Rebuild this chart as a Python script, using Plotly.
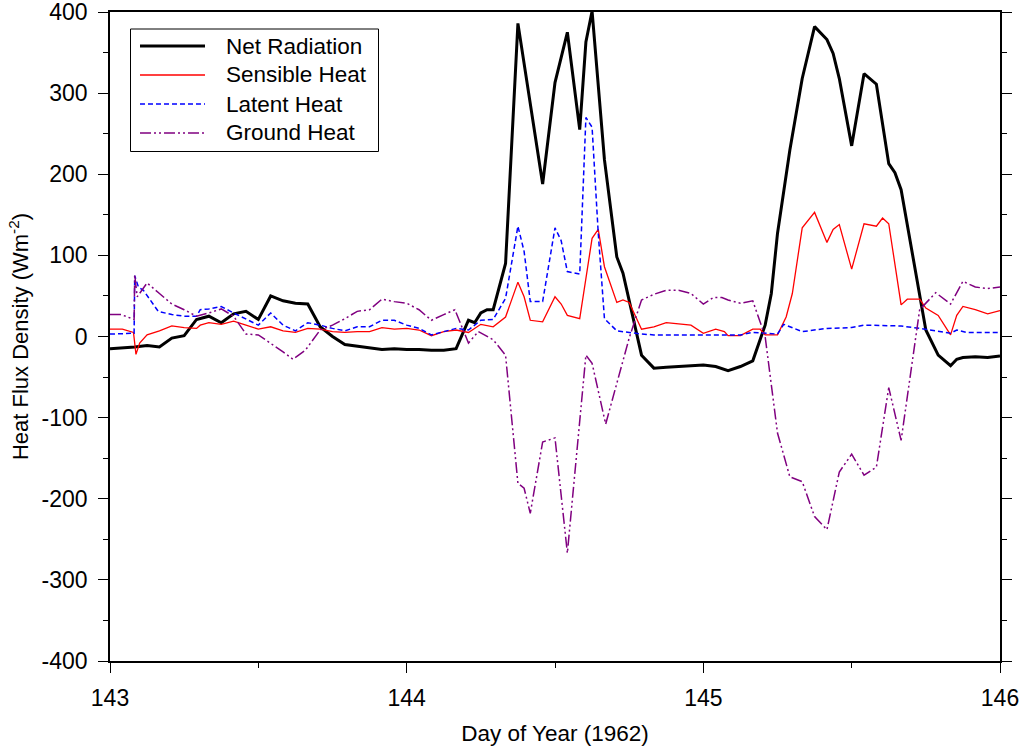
import plotly.graph_objects as go

# ---- data (hours since start of day 143, 1962) ----
net_hours = [0,2,3,4,5,6,7,8,9,10,
             11,12,13,14,15,16,17,18,19,20,
             21,22,23,24,25,26,27,28,29,29.5,
             30,30.5,31,32,33,35,36,37,38,38.5,
             39,40,41,41.5,43,44,45,46,47,48,
             49,50,51,52,53,53.5,54,55,56,57,
             58,58.5,59,60,61,62,63,63.5,64,65,
             66,67,68,68.5,69,70,71,72]
net_values = [-15,-13,-11,-13,-2,1,21,25,17,28,
              31,21,50,44,41,40,12,0,-10,-12,
              -14,-16,-15,-16,-16,-17,-17,-15,20,17,
              29,33,33,90,386,188,313,375,255,363,
              401,218,98,78,-23,-39,-38,-37,-36,-35,
              -37,-42,-37,-30,14,53,127,230,318,382,
              366,349,318,235,324,311,213,202,181,94,
              8,-23,-36,-28,-26,-25,-26,-24]

sens_hours = [0,1,1.9,2.1,2.4,3,4,5,6,7,
              7.3,8,9,10,11,12,13,14,15,16,
              17,18,19,20,21,22,23,24,25,26,
              27,28,29,30,31,32,33,33.5,34,35,
              36,36.5,37,38,39,39.5,40,41,41.5,42,
              43,44,45,47,48,49,49.7,50,51,52,
              52.6,53,54,54.7,55.2,56,57,58,58.5,59,
              60,61,62,62.5,63,64,64.5,65.5,66,67,
              68,68.5,69,70,71,72]
sens_values = [9,9,5,-22,-8,2,7,13,11,10,
               14,17,15,19,14,9,12,7,5,10,
               9,6,5,6,6,11,9,10,8,1,
               6,8,5,15,12,24,67,49,20,18,
               49,40,26,22,121,132,86,42,45,42,
               9,12,17,14,4,9,6,1,1,9,
               9,2,2,24,53,134,153,116,132,138,
               83,139,136,146,139,39,46,46,35,26,
               2,26,37,33,28,32]

lat_hours = [0,1.95,2.0,2.3,2.7,3.9,5,6,7,7.3,
             8,9,10,11,12,13,14,15,16,17,
             18,19,20,21,22,23,24,25,26,27,
             28,29,30,31,32,33,33.5,34,35,36,
             36.5,37,38,38.5,39,39.5,40,41,42,43,
             44,46,48,50,51,52,53,54,54.5,56,
             58,60,61,64,65.5,68,68.5,69.3,72]
lat_values = [3,4,75,61,57,31,27,25,25,33,
              34,37,29,22,14,29,14,7,17,14,
              10,7,12,12,20,20,14,10,2,6,
              10,8,20,21,47,136,105,43,43,134,
              118,80,77,270,258,127,22,7,5,3,
              2,2,2,2,2,5,4,3,15,6,
              10,11,14,13,10,4,8,5,5]

grd_hours = [0,0.9,1.95,2.0,2.2,3,4,5,6,7,
             8,9,10,11,12,13,14,14.8,15.8,17,
             18,19,20,21,22,23,24,25,26,27,
             27.9,29,29.8,31,32,33,33.5,34,35,36,
             37,38.5,39,40.1,42,43,44,45,46,47,
             48,48.8,49.5,50,51,52,53,54,55,56,
             57,58,59,60,61,62,63,64,65.5,66.8,
             68,69,70,71,72]
grd_values = [27,27,21,76,49,66,53,40,33,25,
              29,34,25,3,2,-8,-19,-28,-17,8,
              14,22,31,33,46,43,41,33,20,27,
              33,-8,6,-4,-23,-181,-187,-218,-130,-125,
              -267,-23,-33,-108,-2,45,52,57,57,53,
              40,48,48,45,41,44,0,-119,-173,-179,
              -222,-238,-167,-145,-171,-161,-63,-128,33,54,
              40,68,61,59,61]

START_DAY = 143
x_ticks = [143, 144, 145, 146]
y_ticks = [-400, -300, -200, -100, 0, 100, 200, 300, 400]
series_names = ["Net Radiation", "Sensible Heat", "Latent Heat", "Ground Heat"]


def to_day(hours):
    return [START_DAY + h / 24.0 for h in hours]


FONT = "Arial, Liberation Sans, sans-serif"

W, H = 1022, 746
ML, MR, MT, MB = 110, 22, 12, 85
PW, PH = W - ML - MR, H - MT - MB


def px_x(px):  # pixel -> paper x
    return (px - ML) / PW


def px_y(py):  # pixel -> paper y
    return (H - MB - py) / PH


styles = [
    dict(color="#000000", width=3),
    dict(color="#FF0000", width=1.3),
    dict(color="#0000FF", width=1.5, dash="5px,3px"),
    dict(color="#800080", width=1.5, dash="11px,3px,2px,3px,2px,3px"),
]
series = [(net_hours, net_values), (sens_hours, sens_values),
          (lat_hours, lat_values), (grd_hours, grd_values)]

fig = go.Figure()
for (hrs, vals), name, st in zip(series, series_names, styles):
    fig.add_trace(go.Scatter(x=to_day(hrs), y=vals, mode="lines", name=name,
                             line=st, showlegend=False))

# legend box drawn in paper coordinates
shapes = [dict(type="rect", xref="paper", yref="paper",
               x0=px_x(130.5), x1=px_x(378.5), y0=px_y(151.5), y1=px_y(29),
               line=dict(color="black", width=1), fillcolor="white", layer="above")]
annotations = []
row_y = [46, 75, 104, 133]
for name, st, ry in zip(series_names, styles, row_y):
    shapes.append(dict(type="line", xref="paper", yref="paper",
                       x0=px_x(140), x1=px_x(205), y0=px_y(ry), y1=px_y(ry),
                       line=st, layer="above"))
    annotations.append(dict(text=name, xref="paper", yref="paper",
                            x=px_x(224), y=px_y(ry), xanchor="left", yanchor="middle",
                            showarrow=False,
                            font=dict(family=FONT, size=22.5, color="black")))

fig.update_layout(
    width=W, height=H,
    margin=dict(l=ML, r=MR, t=MT, b=MB),
    paper_bgcolor="white", plot_bgcolor="white",
    font=dict(family=FONT, size=22, color="black"),
    showlegend=False,
    shapes=shapes, annotations=annotations,
)
fig.update_xaxes(
    range=[143, 146], tickvals=x_ticks, ticktext=[str(v) for v in x_ticks],
    automargin=False, ticklabeloverflow="allow",
    showgrid=False, zeroline=False,
    showline=True, linecolor="black", linewidth=1.5, mirror=True,
    ticks="outside", ticklen=10, tickwidth=1, tickcolor="black",
    ticklabelstandoff=6,
    minor=dict(dtick=0.5, tick0=143, ticks="outside", ticklen=5, tickwidth=1, tickcolor="black"),
    tickfont=dict(family=FONT, size=23),
    title=dict(text="Day of Year (1962)", font=dict(family=FONT, size=22.5), standoff=17),
)
fig.update_yaxes(
    range=[-400, 400], tickvals=y_ticks, ticktext=[str(v) for v in y_ticks],
    automargin=False, ticklabeloverflow="allow",
    showgrid=False, zeroline=False,
    showline=True, linecolor="black", linewidth=1.5, mirror="ticks",
    ticks="outside", ticklen=10, tickwidth=1, tickcolor="black",
    ticklabelstandoff=6,
    minor=dict(dtick=50, tick0=0, ticks="outside", ticklen=5, tickwidth=1, tickcolor="black"),
    tickfont=dict(family=FONT, size=23),
    title=dict(text="Heat Flux Density (Wm<sup>-2</sup>)", font=dict(family=FONT, size=22), standoff=7),
)

fig.write_html("out.html")
